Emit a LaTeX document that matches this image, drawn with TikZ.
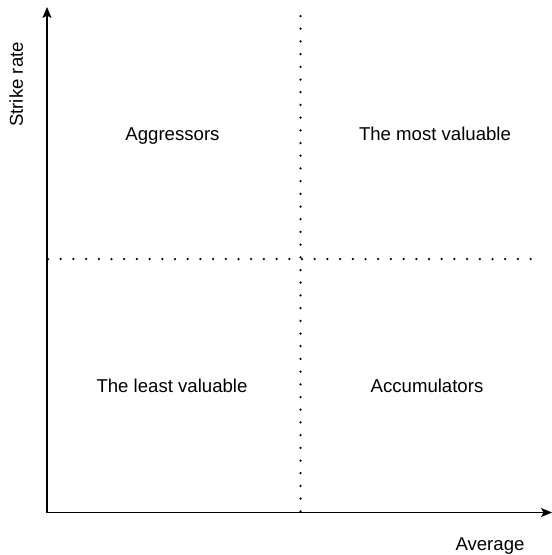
\documentclass[tikz,border=0pt]{standalone}
\usepackage{fontspec}
\setmainfont{Liberation Sans}
\usetikzlibrary{arrows.meta}
\begin{document}
\begin{tikzpicture}[x=1pt,y=-1pt,
  axis/.style={line width=1.4pt,-{Stealth[length=11pt,width=9pt,inset=2.5pt]}},
  dots/.style={line width=2.5pt, line cap=round, dash pattern=on 0pt off 12.7pt},
  lbl/.style={font=\fontsize{18.6}{22}\selectfont, anchor=base, inner sep=0pt}]
\useasboundingbox (0,0) rectangle (552,555);
\coordinate (o) at (47,512.5);
\coordinate (ytip) at (47,7);
\coordinate (xtip) at (552,512.5);
\coordinate (vtop) at (300.5,16);
\coordinate (vbot) at (300.5,512);
\coordinate (hl) at (48,259);
\coordinate (hr) at (543,259);
\draw[dots] (vtop) -- (vbot);
\draw[dots] (hl) -- (hr);
\draw[axis] (o) -- (ytip);
\draw[axis] (o) -- (xtip);
\node[lbl] (agg) at (172.5,140) {Aggressors};
\node[lbl] (mv) at (435,140) {The most valuable};
\node[lbl] (lv) at (172,392) {The least valuable};
\node[lbl] (acc) at (427,392) {Accumulators};
\node[lbl] (avg) at (490,550) {Average};
\node[lbl, rotate=90] (sr) at (23,84.5) {Strike rate};
\end{tikzpicture}
\end{document}
